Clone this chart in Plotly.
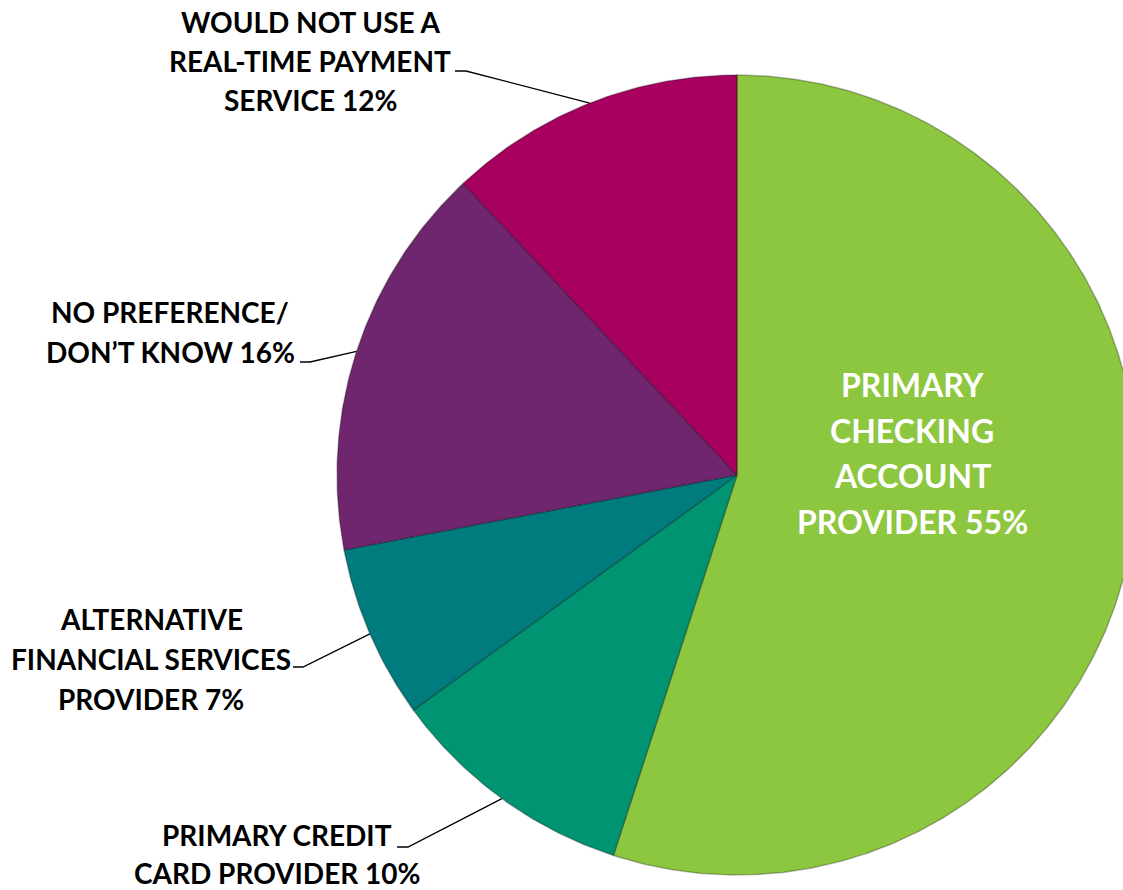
import numpy as np
import plotly.graph_objects as go

# ---- data ----
categories = [
    "PRIMARY<br>CHECKING<br>ACCOUNT<br>PROVIDER",
    "PRIMARY CREDIT<br>CARD PROVIDER",
    "ALTERNATIVE<br>FINANCIAL SERVICES<br>PROVIDER",
    "NO PREFERENCE/<br>DON’T KNOW",
    "WOULD NOT USE A<br>REAL-TIME PAYMENT<br>SERVICE",
]
values = [55, 10, 7, 16, 12]
colors = ["#8DC63F", "#009473", "#007B7E", "#70266E", "#A8005F"]

# ---- layout constants (pixels) ----
W, H = 1123, 890
CX, CY, R = 737, 475, 400
# label block centres
label_x = [912, 277, 151, 170, 310]
label_y = [453, 854, 659, 332, 61]
label_size = [32, 28, 28, 28, 28]
line_gap = [45.5, 38.5, 40, 40, 39]
label_color = ["white", "black", "black", "black", "black"]
# leader elbows: (text end x, elbow x, elbow y); None for inside label
leaders = [None, (397, 408, 847), (293, 303, 667), (300, 310, 362), (455, 466, 71)]

total = sum(values)
fig = go.Figure()


def pt(frac, r=R):
    th = 2 * np.pi * frac
    return CX + r * np.sin(th), CY - r * np.cos(th)


start = 0.0
mids = []
for v, c, name in zip(values, colors, categories):
    f0 = start / total
    f1 = (start + v) / total
    n = max(3, int((f1 - f0) * 720))
    fr = np.linspace(f0, f1, n)
    xs, ys = pt(fr)
    xs = np.concatenate([[CX], xs, [CX]])
    ys = np.concatenate([[CY], ys, [CY]])
    fig.add_trace(go.Scatter(
        x=xs, y=ys, mode="lines", fill="toself", fillcolor=c,
        line=dict(color="rgba(0,0,0,0.28)", width=1.5),
        hoverinfo="text", text=f"{name.replace('<br>', ' ')} {v}%",
        showlegend=False,
    ))
    mids.append((f0 + f1) / 2)
    start += v

# leader lines
for m, ld in zip(mids, leaders):
    if ld is None:
        continue
    ex, ey = pt(m)
    tx, bx, by = ld
    fig.add_trace(go.Scatter(
        x=[tx, bx, ex], y=[by, by, ey], mode="lines",
        line=dict(color="black", width=1.3), hoverinfo="skip", showlegend=False,
    ))

# labels, one annotation per text line for exact line spacing
for name, v, x, y, s, gap, col in zip(categories, values, label_x, label_y,
                                      label_size, line_gap, label_color):
    lines = f"{name} {v}%".split("<br>")
    k = len(lines)
    for i, ln in enumerate(lines):
        fig.add_annotation(
            x=x, y=y + (i - (k - 1) / 2) * gap, xref="x", yref="y", text=ln,
            showarrow=False, align="center", xanchor="center", yanchor="middle",
            font=dict(family="Lato", size=s, color=col, weight=700),
        )

fig.update_layout(
    width=W, height=H, margin=dict(l=0, r=0, t=0, b=0),
    paper_bgcolor="white", plot_bgcolor="white",
    xaxis=dict(range=[0, W], visible=False, fixedrange=True),
    yaxis=dict(range=[H, 0], visible=False, fixedrange=True),
    showlegend=False,
)
fig.write_html("out.html")
